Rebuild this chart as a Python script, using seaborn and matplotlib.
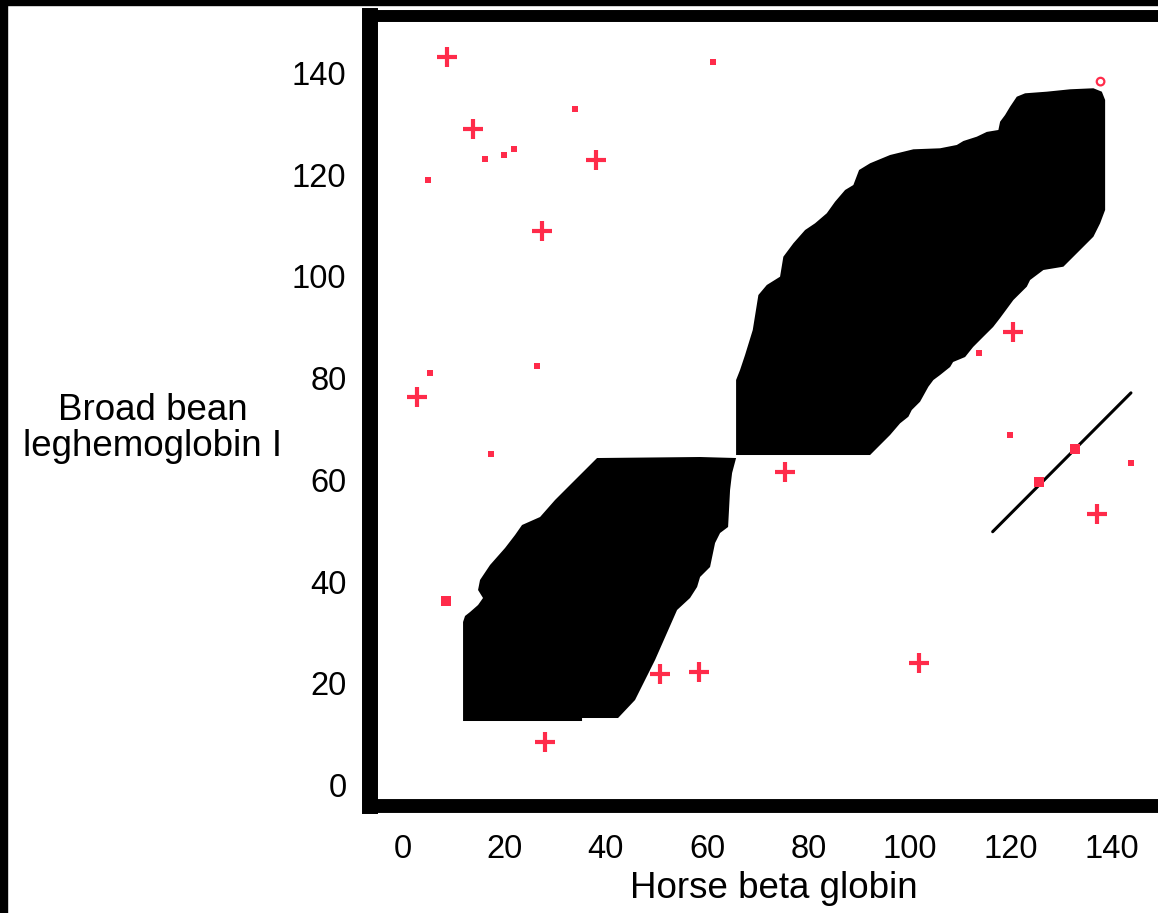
import numpy as np
import pandas as pd
import matplotlib
matplotlib.use("Agg")
import matplotlib.pyplot as plt
from matplotlib.patches import Rectangle
import seaborn as sns

sns.set_style("white")
plt.rcParams["font.family"] = ["Liberation Sans", "DejaVu Sans"]

RED = "#ff2b4a"

# ---- data -------------------------------------------------------------
x_ticks = [0, 20, 40, 60, 80, 100, 120, 140]
y_ticks = [0, 20, 40, 60, 80, 100, 120, 140]

plus_x = [8.6, 13.9, 38.1, 27.4, 2.7, 75.4, 120.5, 137.0, 50.7, 58.5, 101.9, 28.0]
plus_y = [143.2, 129.0, 122.9, 108.9, 76.2, 61.6, 89.1, 53.3, 21.8, 22.2, 23.9, 8.5]

sq_x = [33.9, 16.2, 20.0, 22.0, 5.0, 61.1, 5.3, 26.4, 17.3, 113.7, 119.8, 143.7]
sq_y = [133.0, 123.0, 123.9, 125.0, 118.9, 142.1, 81.1, 82.3, 65.1, 85.0, 68.9, 63.3]

bigsq_x = [8.5, 132.7, 125.5]
bigsq_y = [36.2, 66.1, 59.5]

circ_x = [137.7]
circ_y = [138.3]

line_x = [116.4, 143.7]
line_y = [49.8, 77.1]

# lower lobe of the dot-plot region (outline)
lower_x = [11.85, 35.34, 35.34, 42.45, 45.80, 49.75, 54.10, 56.66, 58.05, 58.64,
           60.61, 61.60, 62.59, 64.17, 64.56, 64.96, 65.75, 58.64, 38.30, 35.93,
           32.97, 30.01, 27.05, 23.49, 22.11, 20.14, 17.18, 15.20, 14.81, 15.79,
           14.81, 13.23, 12.24, 11.85]
lower_y = [12.58, 12.58, 13.17, 13.17, 16.71, 24.58, 34.41, 36.77, 38.93, 40.90,
           42.86, 47.58, 49.55, 50.73, 58.00, 61.34, 64.29, 64.49, 64.29, 61.93,
           58.99, 56.04, 52.69, 51.12, 49.15, 46.60, 43.26, 40.31, 38.34, 36.77,
           35.39, 34.01, 33.23, 32.05]

# upper lobe (outline)
upper_x = [65.75, 65.75, 66.53, 67.52, 69.04, 70.15, 71.81, 74.43, 75.08, 77.06,
           79.37, 81.34, 83.65, 85.29, 87.27, 88.90, 90.03, 92.20, 96.15, 100.75,
           106.02, 109.32, 110.62, 113.27, 115.24, 117.53, 117.87, 118.85, 119.84, 121.16,
           122.80, 127.09, 131.69, 136.29, 137.95, 138.60, 138.60, 137.61, 136.29, 133.66,
           130.36, 126.42, 123.79, 123.14, 120.49, 117.87, 116.49, 114.51, 112.54, 110.96,
           108.59, 108.00, 106.02, 104.70, 103.71, 102.07, 100.43, 99.76, 98.12, 96.15,
           93.52, 92.20, 65.75]
upper_y = [64.49, 79.63, 81.60, 84.55, 89.46, 96.34, 98.31, 99.94, 103.87, 106.51,
           109.12, 110.44, 112.41, 114.69, 116.99, 117.97, 120.92, 122.24, 123.87, 124.99,
           125.19, 125.84, 126.62, 127.47, 128.41, 128.79, 130.42, 131.73, 133.37, 135.33,
           136.00, 136.32, 136.79, 136.99, 136.32, 134.69, 113.06, 110.44, 107.81, 105.19,
           101.91, 101.26, 99.29, 97.98, 95.36, 91.82, 90.05, 88.09, 86.12, 84.15,
           83.17, 82.19, 80.61, 79.63, 78.31, 75.36, 73.73, 72.41, 71.11, 68.82,
           66.20, 64.88, 64.88]

x_label = "Horse beta globin"
y_label = "Broad bean\nleghemoglobin I"

# ---- figure -----------------------------------------------------------
W, H = 1158, 913
fig = plt.figure(figsize=(W / 100, H / 100), dpi=100, facecolor="white")
ax = fig.add_axes([370 / W, (H - 806) / H, (1173 - 370) / W, (806 - 16) / H])
ax.set_facecolor("white")

# scan border strips
fig.add_artist(Rectangle((0, 1 - 5 / H), 1, 5 / H, transform=fig.transFigure,
                         color="black", zorder=10))
fig.add_artist(Rectangle((0, 0), 7 / W, 1, transform=fig.transFigure,
                         color="black", zorder=10))

ax.fill(lower_x, lower_y, color="black", lw=0, zorder=1)
ax.fill(upper_x, upper_y, color="black", lw=0, zorder=1)

sns.lineplot(x=line_x, y=line_y, color="black", lw=2.2, ax=ax, zorder=2,
             estimator=None, sort=False)

sns.scatterplot(x=plus_x, y=plus_y, marker="+", s=210, color=RED,
                linewidth=3.0, ax=ax, zorder=3)
sns.scatterplot(x=sq_x, y=sq_y, marker="s", s=22, color=RED,
                linewidth=0, ax=ax, zorder=3)
sns.scatterplot(x=bigsq_x, y=bigsq_y, marker="s", s=48, color=RED,
                linewidth=0, ax=ax, zorder=3)
sns.scatterplot(x=circ_x, y=circ_y, marker="o", s=30, facecolor="none",
                edgecolor=RED, linewidth=1.6, ax=ax, zorder=3)

ax.set_xlim(-6.52, 152)
ax.set_ylim(-4.13, 151.2)
ax.set_xticks(x_ticks)
ax.set_yticks(y_ticks)
ax.set_xticklabels([str(t) for t in x_ticks])
ax.set_yticklabels([str(t) for t in y_ticks])
ax.tick_params(axis="x", direction="out", length=6, width=1, color="black",
               pad=14, labelsize=23.5, labelcolor="black")
ax.tick_params(axis="y", length=0, pad=17, labelsize=23.5, labelcolor="black")

for side, lw in [("left", 11.5), ("top", 8.6), ("bottom", 10.0), ("right", 10.0)]:
    ax.spines[side].set_visible(True)
    ax.spines[side].set_color("black")
    ax.spines[side].set_linewidth(lw)
    ax.spines[side].set_capstyle("projecting")

ax.set_xlabel(x_label, fontsize=26.5, color="black")
ax.xaxis.set_label_coords(0.503, -0.104)
ax.xaxis.label.set_va("center")
ax.set_ylabel(y_label, fontsize=26.5, color="black", rotation=0,
              ha="center", va="center", multialignment="center",
              linespacing=1.05)
ax.yaxis.set_label_coords(-0.271, 0.478)

ax.grid(False)
fig.savefig("out.png", dpi=100, facecolor="white")
